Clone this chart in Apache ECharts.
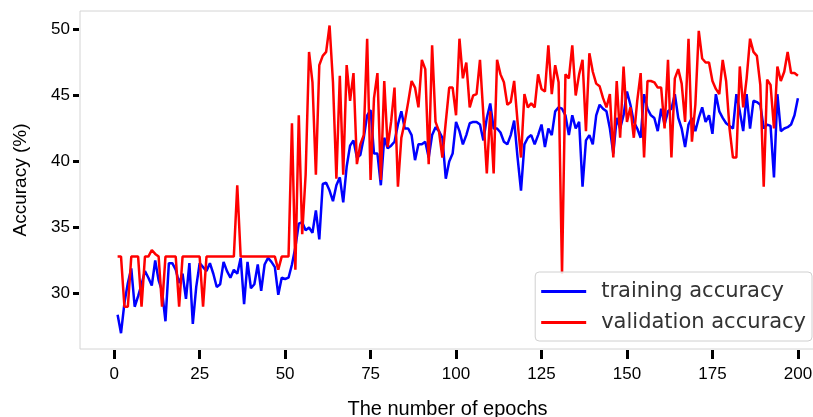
<!DOCTYPE html>
<html>
  <head>
    <meta charset="UTF-8" />
    <title>Training / validation accuracy</title>
    <style>
      html, body { margin: 0; padding: 0; background: #fff; }
      #chart { width: 813px; height: 417px; }
    </style>
    <script type="text/javascript" src="https://cdn.jsdelivr.net/npm/echarts@6/dist/echarts.min.js"></script>
  </head>
  <body>
    <div id="chart"></div>
    <script>
      var xTicks = [0, 25, 50, 75, 100, 125, 150, 175, 200];
      var yTicks = [30, 35, 40, 45, 50];

      // training accuracy, epochs 1..200
      var train = [
        28.4, 27.0, 29.3, 30.8, 31.9, 29.0, 29.8, 30.7, 31.7, 31.2,
        30.6, 32.5, 31.0, 30.2, 27.9, 32.3, 32.3, 31.8, 30.8, 31.5,
        29.6, 32.3, 27.7, 30.5, 32.3, 32.0, 31.7, 32.3, 31.5, 30.5,
        30.7, 32.4, 31.7, 31.2, 31.8, 31.5, 32.7, 29.2, 32.4, 30.4,
        30.7, 32.2, 30.2, 32.2, 32.7, 32.4, 32.0, 29.9, 31.2, 31.1,
        31.2, 32.2, 33.5, 35.3, 35.4, 34.8, 35.0, 34.6, 36.3, 34.1,
        38.3, 38.4, 37.8, 37.0, 38.2, 38.8, 36.9, 39.6, 41.2, 41.6,
        40.3, 40.5, 41.8, 43.5, 43.9, 40.6, 40.6, 38.2, 41.8, 41.0,
        41.2, 41.5, 42.8, 43.8, 42.5, 42.5, 42.0, 40.1, 41.3, 41.3,
        41.5, 40.3, 42.0, 42.6, 42.3, 41.8, 38.7, 40.0, 40.6, 43.0,
        42.3, 41.3, 42.0, 42.9, 43.0, 43.0, 42.8, 41.6, 43.3, 44.4,
        42.5, 42.5, 42.2, 41.5, 41.3, 42.0, 43.1, 40.3, 37.8, 41.3,
        41.8, 42.0, 41.3, 42.0, 42.8, 41.1, 42.5, 42.0, 43.8, 44.1,
        44.0, 43.5, 42.0, 43.5, 42.5, 43.0, 38.1, 41.6, 42.0, 41.3,
        43.5, 44.3, 44.0, 43.8, 42.5, 40.6, 43.3, 42.5, 43.5, 45.3,
        44.3, 43.0, 42.5, 41.8, 45.1, 44.0, 43.5, 43.3, 42.3, 44.0,
        42.8, 43.8, 44.0, 45.1, 43.3, 42.5, 41.1, 42.8, 43.3, 42.3,
        43.3, 44.1, 43.0, 43.5, 42.1, 45.1, 43.8, 43.3, 42.9, 42.7,
        42.5, 45.1, 43.8, 42.3, 45.1, 42.5, 44.6, 44.5, 44.3, 42.5,
        42.8, 42.7, 38.8, 45.1, 42.3, 42.5, 42.6, 42.8, 43.5, 44.8
      ];

      // validation accuracy, epochs 1..200
      var valid = [
        32.8, 32.8, 29.0, 29.0, 32.8, 32.8, 32.8, 29.0, 32.8, 32.8,
        33.3, 33.0, 32.8, 29.0, 32.8, 32.8, 32.8, 32.8, 29.0, 32.8,
        32.8, 32.8, 32.8, 32.8, 32.8, 29.0, 32.8, 32.8, 32.8, 32.8,
        32.8, 32.8, 32.8, 32.8, 32.8, 38.2, 32.8, 32.8, 32.8, 32.8,
        32.8, 32.8, 32.8, 32.8, 32.8, 32.8, 32.8, 31.8, 32.8, 32.8,
        32.8, 42.9, 31.8, 43.5, 34.5, 39.0, 48.3, 46.0, 39.0, 47.3,
        48.0, 48.3, 50.3, 46.0, 38.7, 46.5, 39.0, 47.3, 44.6, 46.7,
        39.8, 41.3, 42.0, 49.3, 38.6, 44.8, 46.7, 38.6, 46.1, 41.1,
        43.0, 45.6, 38.1, 41.8, 43.0, 44.5, 46.1, 45.6, 44.1, 47.7,
        47.0, 39.8, 48.8, 43.0, 42.3, 40.3, 43.0, 45.6, 45.6, 43.5,
        49.3, 46.3, 47.5, 44.1, 45.0, 45.1, 47.7, 43.5, 39.1, 43.8,
        39.1, 47.7, 46.6, 46.0, 44.3, 44.5, 46.1, 43.0, 40.3, 45.1,
        44.1, 44.4, 44.1, 46.6, 45.5, 45.3, 48.8, 45.1, 47.3, 46.0,
        31.5, 46.6, 46.3, 48.8, 45.0, 46.6, 47.7, 42.3, 48.2, 46.8,
        45.9, 45.7, 44.8, 44.1, 45.1, 40.3, 46.1, 41.8, 47.2, 43.0,
        44.1, 41.8, 44.6, 46.7, 40.3, 46.1, 46.1, 46.0, 45.6, 45.6,
        42.5, 47.7, 40.3, 46.3, 47.0, 45.9, 43.0, 49.3, 41.5, 44.3,
        49.9, 47.8, 47.5, 47.5, 46.1, 45.5, 45.1, 47.7, 46.1, 42.5,
        40.3, 40.3, 47.2, 44.1, 46.3, 49.3, 48.3, 48.0, 45.8, 38.1,
        46.2, 45.8, 42.5, 47.2, 46.1, 46.8, 48.3, 46.7, 46.7, 46.5
      ];

      function pairs(arr) {
        return arr.map(function (v, i) { return [i + 1, v]; });
      }

      var tickFont = 'Liberation Sans, Arial, sans-serif';

      var myChart = echarts.init(document.getElementById('chart'), null, { renderer: 'canvas' });

      var option = {
        backgroundColor: '#ffffff',
        animation: false,
        grid: {
          left: 80,
          top: 11,
          right: -2,
          bottom: 68,
          show: true,
          borderColor: '#d4d4d4',
          borderWidth: 1,
          containLabel: false,
          outerBoundsMode: 'none'
        },
        xAxis: {
          type: 'value',
          min: -10,
          max: 205,
          offset: 1,
          name: 'The number of epochs',
          nameLocation: 'middle',
          nameGap: 49,
          nameTextStyle: { fontFamily: tickFont, fontSize: 20, color: '#000' },
          axisLine: { show: false, onZero: false },
          splitLine: { show: false },
          axisTick: {
            show: true,
            length: 9,
            customValues: xTicks,
            lineStyle: { color: '#000', width: 3 }
          },
          axisLabel: {
            customValues: xTicks,
            margin: 16,
            fontFamily: tickFont,
            fontSize: 17,
            color: '#000'
          }
        },
        yAxis: {
          type: 'value',
          min: 25.8,
          max: 51.4,
          offset: 1,
          name: 'Accuracy (%)',
          nameLocation: 'middle',
          nameGap: 49,
          nameTextStyle: { fontFamily: tickFont, fontSize: 19, color: '#000' },
          axisLine: { show: false, onZero: false },
          splitLine: { show: false },
          axisTick: {
            show: true,
            length: 6,
            customValues: yTicks,
            lineStyle: { color: '#000', width: 3 }
          },
          axisLabel: {
            customValues: yTicks,
            margin: 9,
            fontFamily: tickFont,
            fontSize: 17,
            color: '#000'
          }
        },
        legend: {
          orient: 'vertical',
          right: 1,
          top: 272,
          padding: [4, 6, 3, 6],
          icon: 'rect',
          itemWidth: 45,
          itemHeight: 3,
          itemGap: 0,
          backgroundColor: 'rgba(255,255,255,0.85)',
          borderColor: '#d0d0d0',
          borderWidth: 1,
          borderRadius: 4,
          textStyle: {
            fontFamily: 'DejaVu Sans, sans-serif',
            fontSize: 21,
            lineHeight: 31,
            color: '#333',
            padding: [0, 0, 0, 10]
          },
          data: ['training accuracy', 'validation accuracy']
        },
        series: [
          {
            name: 'training accuracy',
            type: 'line',
            data: pairs(train),
            symbol: 'none',
            lineStyle: { color: '#0000ff', width: 2.5 },
            itemStyle: { color: '#0000ff' }
          },
          {
            name: 'validation accuracy',
            type: 'line',
            data: pairs(valid),
            symbol: 'none',
            lineStyle: { color: '#ff0000', width: 2.5 },
            itemStyle: { color: '#ff0000' }
          }
        ]
      };

      myChart.setOption(option);
    </script>
  </body>
</html>
